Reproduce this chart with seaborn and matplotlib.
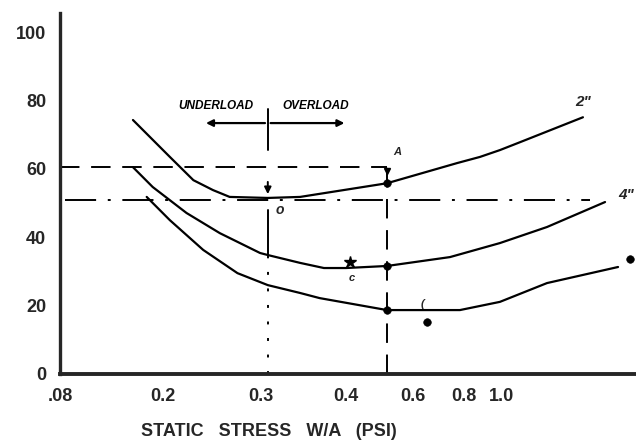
import numpy as np
import pandas as pd
import matplotlib
matplotlib.use("Agg")
import matplotlib.pyplot as plt
import seaborn as sns

# --- data ---
# hand-drawn x axis: tick value -> relative position along the axis
x_tick_vals = [0.08, 0.2, 0.3, 0.4, 0.5, 0.6, 0.8, 1.0, 2.0]
x_tick_pos = [0, 103, 201, 286, 327, 353, 404, 442, 576]
x_tick_labels = ['.08', '0.2', '0.3', '0.4', '', '0.6', '0.8', '1.0']

curve_2in_x = [0.165, 0.207, 0.231, 0.251, 0.268, 0.308, 0.346, 0.5, 0.773, 0.884, 0.989, 1.134, 1.604]
curve_2in_y = [74.3, 63.5, 56.7, 53.8, 51.8, 51.5, 51.8, 55.8, 61.7, 63.5, 65.5, 67.8, 75.1]

curve_4in_x = [0.165, 0.188, 0.224, 0.258, 0.299, 0.308, 0.346, 0.374, 0.4, 0.5, 0.745, 0.989, 1.336, 1.769]
curve_4in_y = [60.5, 54.7, 47.1, 41.2, 35.4, 34.8, 32.5, 31.0, 31.0, 31.6, 34.2, 38.3, 43.0, 50.3]

curve_low_x = [0.181, 0.207, 0.241, 0.276, 0.308, 0.346, 0.369, 0.5, 0.784, 0.989, 1.336, 1.866]
curve_low_y = [51.8, 45.0, 36.3, 29.5, 26.0, 23.7, 22.2, 18.7, 18.7, 21.1, 26.6, 31.3]

dot_x = [0.5, 0.5, 0.5, 0.655, 1.955]
dot_y = [55.8, 31.6, 18.7, 15.2, 33.6]

ref_dash_y = 60.5      # dashed level through A
ref_dashdot_y = 50.9   # dash-dot level through O
ref_a_x = 0.5
ref_o_x = 0.308


def fwd(x):
    return np.interp(x, x_tick_vals, x_tick_pos)


def inv(p):
    return np.interp(p, x_tick_pos, x_tick_vals)


sns.set_style('white')
plt.rcParams['font.family'] = ['Liberation Sans', 'DejaVu Sans']

fig = plt.figure(figsize=(6.36, 4.45), dpi=100)
ax = fig.add_axes([60 / 636, 1 - 374 / 445, 1 - 60 / 636, 361 / 445])
ax.set_xscale('function', functions=(fwd, inv))

df = pd.concat([
    pd.DataFrame({'x': curve_2in_x, 'y': curve_2in_y, 'size': '2"'}),
    pd.DataFrame({'x': curve_4in_x, 'y': curve_4in_y, 'size': '4"'}),
    pd.DataFrame({'x': curve_low_x, 'y': curve_low_y, 'size': 'low'}),
])
sns.lineplot(data=df, x='x', y='y', units='size', estimator=None, sort=False,
             color='black', lw=1.6, ax=ax, legend=False)
sns.scatterplot(x=dot_x, y=dot_y, color='black', s=30, edgecolor='black', ax=ax, zorder=5)
ax.plot([0.41], [32.7], marker='*', color='black', ms=9)

# reference lines
ax.plot([0.08, ref_a_x], [ref_dash_y, ref_dash_y], color='black', lw=1.4, ls=(0, (10, 6)))
ax.plot([ref_a_x, ref_a_x], [0, ref_dash_y], color='black', lw=1.4, ls=(0, (10, 6)))
ax.plot([ref_a_x], [ref_dash_y - 1], marker='v', color='black', ms=5)
ax.plot([0.086, 1.657], [ref_dashdot_y, ref_dashdot_y], color='black', lw=1.4, ls=(0, (16, 6, 1.5, 6)))
ax.plot([ref_o_x, ref_o_x], [0, 34.8], color='black', lw=1.4, ls=(0, (1.5, 7)))
ax.plot([ref_o_x, ref_o_x], [34.8, 48], color='black', lw=1.4)
ax.plot([ref_o_x, ref_o_x], [65.5, 77.5], color='black', lw=1.4)
ax.annotate('', xy=(ref_o_x, 51.8), xytext=(ref_o_x, 57),
            arrowprops=dict(arrowstyle='-|>', color='black', lw=1.4, mutation_scale=10))

# underload / overload
ax.annotate('', xy=(0.241, 73.4), xytext=(ref_o_x, 73.4),
            arrowprops=dict(arrowstyle='-|>', color='black', lw=1.6, mutation_scale=10))
ax.annotate('', xy=(0.403, 73.4), xytext=(ref_o_x, 73.4),
            arrowprops=dict(arrowstyle='-|>', color='black', lw=1.6, mutation_scale=10))
hand = dict(fontsize=8.5, fontweight='bold', fontstyle='italic', color='black')
ax.text(0.254, 78.3, 'UNDERLOAD', ha='center', va='center', **hand)
ax.text(0.364, 78.3, 'OVERLOAD', ha='center', va='center', **hand)

# hand labels
ax.text(1.604, 79.5, '2"', ha='center', va='center', fontsize=11, fontweight='bold', fontstyle='italic')
ax.text(1.93, 52.3, '4"', ha='center', va='center', fontsize=11, fontweight='bold', fontstyle='italic')
ax.text(0.54, 64.8, 'A', ha='center', va='center', fontsize=8, fontweight='bold', fontstyle='italic')
ax.text(0.322, 48, 'o', ha='center', va='center', fontsize=10, fontweight='bold', fontstyle='italic')
ax.text(0.414, 28.0, 'c', ha='center', va='center', fontsize=8, fontweight='bold', fontstyle='italic')
ax.text(0.636, 20.5, '(', ha='center', va='center', fontsize=8, fontweight='bold', fontstyle='italic')

ax.set_xlim(0.08, 2.0)
ax.set_ylim(0, 105.6)
ax.set_xticks(x_tick_vals[:-1])
ax.set_xticklabels(x_tick_labels)
ax.minorticks_off()
ax.set_yticks([0, 20, 40, 60, 80, 100])
ax.tick_params(direction='inout', length=8, width=1.5, labelsize=13, pad=6)
for lab in ax.get_xticklabels() + ax.get_yticklabels():
    lab.set_fontweight('bold')
ax.set_xlabel('STATIC   STRESS   W/A   (PSI)', fontsize=13, fontweight='bold')
ax.xaxis.set_label_coords(209 / 576, -49 / 361)
ax.set_ylabel('')

for side in ['top', 'right']:
    ax.spines[side].set_visible(False)
ax.spines['left'].set_linewidth(2.4)
ax.spines['bottom'].set_linewidth(2.8)

fig.savefig('out.png', dpi=100)
